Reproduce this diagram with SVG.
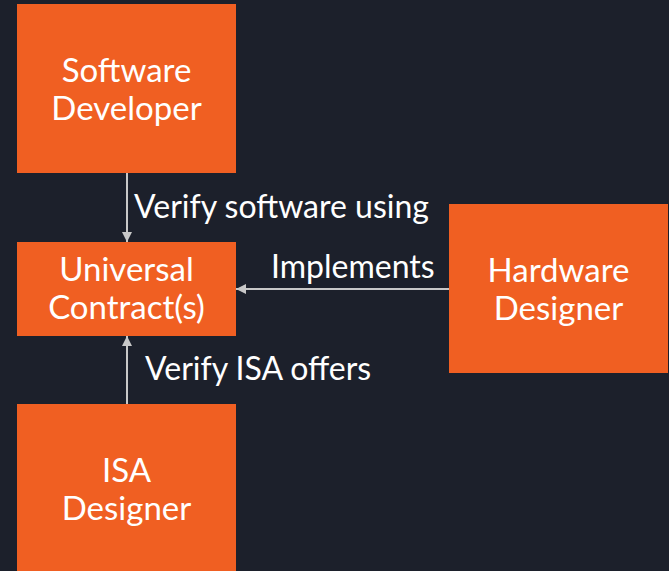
<svg xmlns="http://www.w3.org/2000/svg" width="669" height="571" viewBox="0 0 669 571">
  <style>
    .box { fill: #F05F22; }
    .lbl { font-family: Lato, "Open Sans", sans-serif; font-size: 33px; fill: #FFFFFF; text-anchor: middle; }
    .edge-lbl { font-family: Lato, "Open Sans", sans-serif; font-size: 32px; fill: #FFFFFF; }
    .edge { stroke: #C8C8C8; stroke-width: 2; fill: none; marker-end: url(#arrow); }
  </style>
  <defs>
    <marker id="arrow" viewBox="0 0 10 10" refX="10" refY="5" markerWidth="5" markerHeight="5" orient="auto" markerUnits="strokeWidth">
      <path d="M0,0 L10,5 L0,10 z" fill="#C8C8C8"/>
    </marker>
  </defs>
  <rect width="669" height="571" fill="#1C202B"/>

  <g id="connectors">
    <line class="edge" x1="127" y1="173" x2="127" y2="242"/>
    <line class="edge" x1="449" y1="289" x2="236" y2="289"/>
    <line class="edge" x1="127" y1="404" x2="127" y2="336"/>
    <text class="edge-lbl" x="134" y="218">Verify software using</text>
    <text class="edge-lbl" x="271" y="278">Implements</text>
    <text class="edge-lbl" x="145" y="380">Verify ISA offers</text>
  </g>

  <g id="software-developer">
    <rect class="box" x="17" y="4" width="219" height="169"/>
    <text class="lbl" x="126.5" y="82">Software</text>
    <text class="lbl" x="126.5" y="120">Developer</text>
  </g>

  <g id="universal-contracts">
    <rect class="box" x="17" y="242" width="219" height="94"/>
    <text class="lbl" x="126.5" y="281">Universal</text>
    <text class="lbl" x="126.5" y="319">Contract(s)</text>
  </g>

  <g id="hardware-designer">
    <rect class="box" x="449" y="204" width="219" height="169"/>
    <text class="lbl" x="558.5" y="282">Hardware</text>
    <text class="lbl" x="558.5" y="320">Designer</text>
  </g>

  <g id="isa-designer">
    <rect class="box" x="17" y="404" width="219" height="167"/>
    <text class="lbl" x="126.5" y="482">ISA</text>
    <text class="lbl" x="126.5" y="520">Designer</text>
  </g>
</svg>
